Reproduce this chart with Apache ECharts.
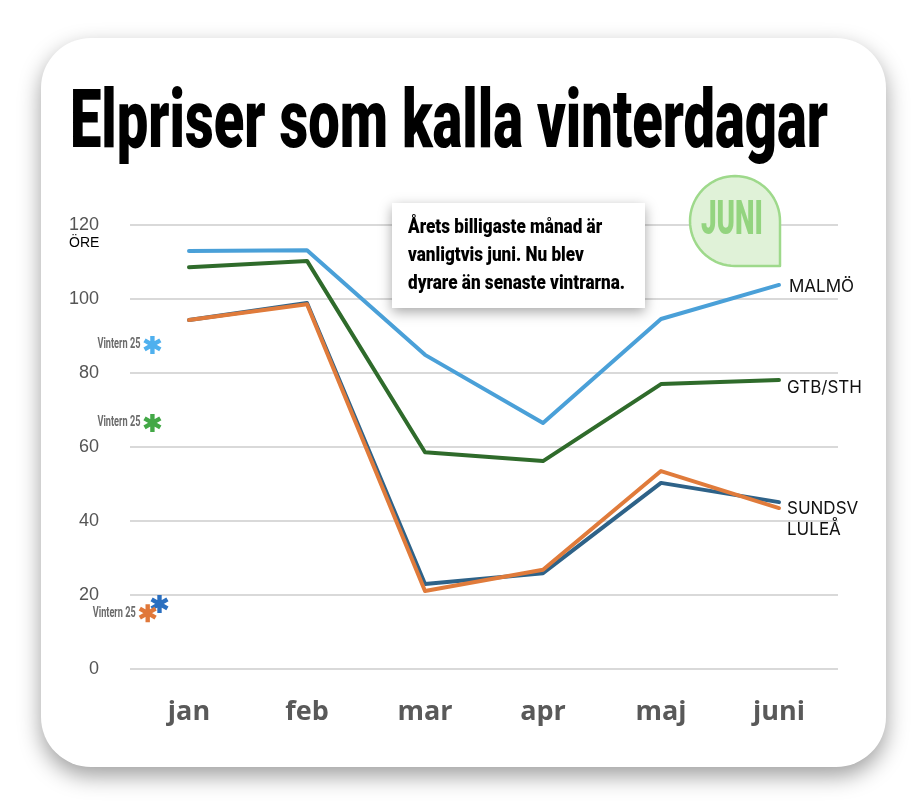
<!DOCTYPE html>
<html>
<head>
<meta charset="utf-8">
<script src="https://cdn.jsdelivr.net/npm/echarts@6/dist/echarts.min.js"></script>
<style>
  html, body { margin: 0; padding: 0; background: #ffffff; }
  #card {
    position: absolute; left: 41px; top: 38px; width: 845px; height: 729px;
    border-radius: 50px; background: #ffffff;
    box-shadow: 0 9px 22px rgba(0, 0, 0, 0.38);
  }
  #main { position: absolute; left: 0; top: 0; width: 912px; height: 804px; }
</style>
</head>
<body>
<div id="card"></div>
<div id="main"></div>
<script>
// data (öre)
var months = ['jan', 'feb', 'mar', 'apr', 'maj', 'juni'];
var malmo = [113.0, 113.2, 84.9, 66.5, 94.6, 103.8];
var gtbSth = [108.6, 110.3, 58.6, 56.2, 77.0, 78.1];
var sundsvall = [94.3, 98.9, 23.0, 25.9, 50.3, 45.1];
var lulea = [94.3, 98.6, 21.1, 26.8, 53.5, 43.5];
// vintern 25 – MALMÖ, GTB/STH, SUNDSV, LULEÅ
var winter25 = [87.6, 66.5, 17.6, 15.1];
var yMin = 0, yMax = 120, yStep = 20;

var myChart = echarts.init(document.getElementById('main'));

var starPath = 'path://M-1.2,-5L1.2,-5L1.2,5L-1.2,5Z' +
  'M3.73,-3.54L4.93,-1.46L-3.73,3.54L-4.93,1.46Z' +
  'M4.93,1.46L3.73,3.54L-4.93,-1.46L-3.73,-3.54Z';

// mäter text för att klämma ihop den (kondenserad rubrikstil)
var ctx = document.createElement('canvas').getContext('2d');
function squeeze(font, text, width) {
  ctx.font = font;
  return width / ctx.measureText(text).width;
}

function lineSeries(name, data, color, offset) {
  return {
    name: name,
    type: 'line',
    data: data,
    symbol: 'none',
    lineStyle: { color: color, width: 4, join: 'round', cap: 'round' },
    endLabel: {
      show: true,
      formatter: name,
      color: '#111',
      fontFamily: 'Inter',
      fontSize: 17,
      distance: 8,
      offset: offset
    },
    z: 3
  };
}

function star(x, y, color) {
  return {
    type: 'scatter',
    xAxisIndex: 1,
    yAxisIndex: 0,
    symbol: starPath,
    symbolSize: [18, 18],
    itemStyle: { color: color, opacity: 1 },
    data: [[x, y]],
    z: 4
  };
}

var option = {
  animation: false,
  grid: { left: 130, right: 74, top: 225, bottom: 135, containLabel: false },
  xAxis: [
    {
      type: 'category',
      data: months,
      boundaryGap: true,
      axisLine: { show: false },
      axisTick: { show: false },
      axisLabel: {
        color: '#595959',
        fontFamily: 'Open Sans',
        fontWeight: 'bold',
        fontSize: 27,
        margin: 30
      }
    },
    { type: 'value', min: -0.5, max: 5.5, show: false }
  ],
  yAxis: {
    type: 'value',
    min: yMin,
    max: yMax,
    interval: yStep,
    axisLine: { show: false },
    axisTick: { show: false },
    splitLine: { lineStyle: { color: '#d9d9d9', width: 2 } },
    axisLabel: {
      color: '#555555',
      fontFamily: 'Liberation Sans',
      fontSize: 18,
      margin: 31
    }
  },
  series: [
    lineSeries('SUNDSV', sundsvall, '#2e6288', [0, 7]),
    lineSeries('LULEÅ', lulea, '#e07b3b', [0, 22]),
    lineSeries('GTB/STH', gtbSth, '#2f6b2b', [0, 8]),
    lineSeries('MALMÖ', malmo, '#4aa0d8', [2, 2]),
    star(-0.31, winter25[0], '#4fb0ee'),
    star(-0.31, winter25[1], '#43a847'),
    star(-0.25, winter25[2], '#2a6fc0'),
    star(-0.35, winter25[3], '#e0783a')
  ]
};

myChart.setOption(option);

// rubrik, faktaruta, JUNI-bubbla och "Vintern 25"-etiketter
var titleText = 'Elpriser som kalla vinterdagar';
var titleFont = '900 82px Roboto';
var noteLines = ['Årets billigaste månad är', 'vanligtvis juni. Nu blev', 'dyrare än senaste vintrarna.'];
var noteFont = '900 21px Roboto';
var junFont = '900 48px Roboto';
var vinFont = 'bold 14px Roboto';

// droppformad bubbla: cirkel med fyrkantigt hörn nere till höger
var bubble = [];
var cx = 735, cy = 221, r = 45;
for (var a = 0; a <= 270; a += 5) {
  var t = (90 + a) * Math.PI / 180;
  bubble.push([cx + r * Math.cos(t), cy + r * Math.sin(t)]);
}
bubble.push([cx + r, cy + r]);

var graphics = [
  {
    type: 'text', x: 70, y: 126,
    scaleX: squeeze(titleFont, titleText, 758),
    style: { x: 0, y: 0, text: titleText, font: titleFont, fill: '#000', align: 'left', verticalAlign: 'middle' }
  },
  {
    type: 'rect',
    shape: { x: 392, y: 203, width: 253, height: 105 },
    style: { fill: '#fff', shadowBlur: 12, shadowColor: 'rgba(0,0,0,0.35)', shadowOffsetY: 4 },
    z: 10
  },
  {
    type: 'text', x: 408, y: 214, z: 11,
    scaleX: squeeze(noteFont, noteLines[2], 217),
    style: { x: 0, y: 0, text: noteLines.join('\n'), font: noteFont, lineHeight: 28, fill: '#000', align: 'left', verticalAlign: 'top' }
  },
  {
    type: 'polygon', z: 10,
    shape: { points: bubble },
    style: { fill: '#e0f2d8', stroke: '#9ed98b', lineWidth: 2.5, lineJoin: 'round' }
  },
  {
    type: 'text', x: 732, y: 222, z: 11,
    scaleX: squeeze(junFont, 'JUNI', 62),
    style: { x: 0, y: 0, text: 'JUNI', font: junFont, fill: '#93d47f', align: 'center', verticalAlign: 'middle' }
  },
  {
    type: 'text', x: 69, y: 243,
    style: { x: 0, y: 0, text: 'ÖRE', font: '14px "Liberation Sans"', fill: '#000', align: 'left', verticalAlign: 'middle' }
  }
];

var vinScale = squeeze(vinFont, 'Vintern 25', 43);
[[-0.31, winter25[0]], [-0.31, winter25[1]], [-0.35, winter25[3]]].forEach(function (p) {
  var px = myChart.convertToPixel({ xAxisIndex: 1, yAxisIndex: 0 }, p);
  graphics.push({
    type: 'text', x: px[0] - 12, y: px[1],
    scaleX: vinScale,
    style: { x: 0, y: 0, text: 'Vintern 25', font: vinFont, fill: '#6b6b6b', align: 'right', verticalAlign: 'middle' }
  });
});

myChart.setOption({ graphic: graphics });
</script>
</body>
</html>
